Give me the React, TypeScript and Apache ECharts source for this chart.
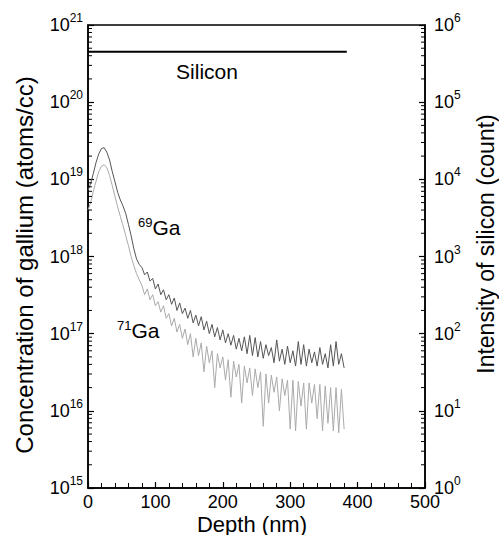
import React, { useEffect, useRef } from "react";
import * as echarts from "echarts";

const FONT = "'Liberation Sans', Arial, Helvetica, sans-serif";

const depth = [
  0, 4, 8, 12, 16, 20, 24, 28, 32, 36, 40, 44, 48, 52, 56, 60, 64, 68, 72, 76,
  80, 84, 88, 92, 96, 100, 104, 108, 112, 116, 120, 124, 128, 132, 136, 140, 144, 148, 152, 156,
  160, 164, 168, 172, 176, 180, 184, 188, 192, 196, 200, 204, 208, 212, 216, 220, 224, 228, 232, 236,
  240, 244, 248, 252, 256, 260, 264, 268, 272, 276, 280, 284, 288, 292, 296, 300, 304, 308, 312, 316,
  320, 324, 328, 332, 336, 340, 344, 348, 352, 356, 360, 364, 368, 372, 376, 380,
];

const ga69 = [
  7.2e18, 8.9e18, 1.2e19, 1.66e19, 2.14e19, 2.51e19, 2.57e19, 2.24e19, 1.78e19, 1.26e19,
  9.3e18, 6.8e18, 5.4e18, 4.5e18, 3.6e18, 2.6e18, 1.86e18, 1.26e18, 9.3e17, 7.9e17,
  7.2e17, 5.8e17, 6.3e17, 4.8e17, 5.2e17, 3.8e17, 4.4e17, 3.2e17, 3.7e17, 2.75e17,
  3.2e17, 2.4e17, 2.9e17, 2.0e17, 2.5e17, 1.82e17, 2.14e17, 1.58e17, 2.0e17, 1.38e17,
  1.74e17, 1.26e17, 1.66e17, 1.12e17, 1.45e17, 1.0e17, 1.32e17, 9.1e16, 1.2e17, 8.3e16,
  1.12e17, 7.6e16, 1.0e17, 7.1e16, 9.5e16, 6.3e16, 8.7e16, 6.0e16, 9.1e16, 5.5e16,
  9.5e16, 5.2e16, 8.9e16, 5.0e16, 7.9e16, 4.8e16, 7.2e16, 5.2e16, 6.6e16, 4.2e16,
  8.3e16, 4.4e16, 6.3e16, 4.0e16, 6.9e16, 4.2e16, 6.0e16, 3.8e16, 7.9e16, 4.0e16,
  7.2e16, 3.8e16, 6.3e16, 4.2e16, 5.8e16, 3.8e16, 6.6e16, 4.0e16, 5.5e16, 3.6e16,
  7.2e16, 3.8e16, 7.9e16, 4.0e16, 5.5e16, 3.6e16,
];

const ga71 = [
  4.0e18, 5.0e18, 7.1e18, 9.5e18, 1.26e19, 1.48e19, 1.55e19, 1.41e19, 1.12e19, 8.3e18,
  6.0e18, 4.4e18, 3.3e18, 2.5e18, 1.86e18, 1.38e18, 1.0e18, 7.6e17, 6.0e17, 5.0e17,
  4.2e17, 3.2e17, 3.8e17, 2.75e17, 3.2e17, 2.3e17, 2.6e17, 1.9e17, 2.3e17, 1.58e17,
  1.82e17, 1.26e17, 1.58e17, 1.05e17, 1.32e17, 8.7e16, 1.15e17, 7.2e16, 1.0e17, 5.0e16,
  8.7e16, 5.2e16, 7.6e16, 3.2e16, 6.9e16, 4.2e16, 6.0e16, 2.0e16, 5.5e16, 3.6e16,
  5.0e16, 2.5e16, 4.6e16, 1.5e16, 4.4e16, 2.75e16, 4.0e16, 1.26e16, 3.8e16, 2.3e16,
  3.6e16, 1.58e16, 3.5e16, 2.0e16, 3.2e16, 6.3e15, 3.0e16, 1.26e16, 2.9e16, 1.74e16,
  2.75e16, 1.0e16, 2.6e16, 1.58e16, 2.5e16, 5.8e15, 2.5e16, 5.5e15, 2.4e16, 1.15e16,
  2.3e16, 5.8e15, 2.3e16, 1.26e16, 2.2e16, 7.9e15, 2.2e16, 5.5e15, 2.1e16, 6.9e15,
  2.0e16, 5.5e15, 2.0e16, 5.2e15, 1.9e16, 5.8e15,
];

const siDepth = [0, 384];
const siCount = [4.5e5, 4.5e5];

const xTicks = [0, 100, 200, 300, 400, 500];
const leftDecades = [1e15, 1e16, 1e17, 1e18, 1e19, 1e20, 1e21];
const rightDecades = [1, 1e1, 1e2, 1e3, 1e4, 1e5, 1e6];
const minorMultipliers = [2, 3, 4, 5, 6, 7, 8, 9];

const minorValues = (decades: number[]) =>
  decades.slice(0, -1).flatMap((d) => minorMultipliers.map((m) => m * d));

const pairs = (xs: number[], ys: number[]) => xs.map((x, i) => [x, ys[i]]);

const expLabel = (v: number) => `{b|10}{s|${Math.round(Math.log10(v))}}`;

const labelRich = {
  b: { fontSize: 18, lineHeight: 26, fontFamily: FONT, color: "#000" },
  s: { fontSize: 12, lineHeight: 8, verticalAlign: "top", fontFamily: FONT, color: "#000" },
};

const tickItem = (dir: number) => (params: any, api: any) => {
  const p = api.coord([api.value(0), api.value(1)]);
  return {
    type: "line",
    shape: { x1: p[0], y1: p[1], x2: p[0] + dir * 4, y2: p[1] },
    style: { stroke: "#000", lineWidth: 1 },
  };
};

export default function App() {
  const ref = useRef<HTMLDivElement>(null);
  useEffect(() => {
    if (!ref.current) return;
    const chart = echarts.init(ref.current, null, { renderer: "svg" });
    const axisLine = { show: true, lineStyle: { color: "#000", width: 1.5 } };
    const xMin = xTicks[0];
    const xMax = xTicks[xTicks.length - 1];
    chart.setOption({
      animation: false,
      backgroundColor: "#fff",
      grid: {
        left: 88,
        right: 74,
        top: 25,
        bottom: 47,
        show: true,
        borderColor: "#000",
        borderWidth: 1.5,
        backgroundColor: "transparent",
      },
      xAxis: {
        type: "value",
        min: xMin,
        max: xMax,
        interval: 100,
        axisLine,
        axisTick: { show: true, inside: true, length: 6, lineStyle: { color: "#000", width: 1.2 } },
        minorTick: { show: true, splitNumber: 5, length: 5, lineStyle: { color: "#000", width: 1 } },
        splitLine: { show: false },
        minorSplitLine: { show: false },
        axisLabel: { fontSize: 18, color: "#000", fontFamily: FONT, margin: 5 },
      },
      yAxis: [
        {
          type: "log",
          logBase: 10,
          min: leftDecades[0],
          max: leftDecades[leftDecades.length - 1],
          position: "left",
          axisLine,
          axisTick: { show: true, inside: true, length: 6, lineStyle: { color: "#000", width: 1.2 } },
          splitLine: { show: false },
          axisLabel: { formatter: expLabel, rich: labelRich, margin: 5 },
        },
        {
          type: "log",
          logBase: 10,
          min: rightDecades[0],
          max: rightDecades[rightDecades.length - 1],
          position: "right",
          axisLine,
          axisTick: { show: true, inside: true, length: 6, lineStyle: { color: "#000", width: 1.2 } },
          splitLine: { show: false },
          axisLabel: { formatter: expLabel, rich: labelRich, margin: 9 },
        },
      ],
      series: [
        {
          name: "71Ga",
          type: "line",
          yAxisIndex: 0,
          data: pairs(depth, ga71),
          showSymbol: false,
          lineStyle: { color: "#aaaaaa", width: 1 },
          z: 2,
        },
        {
          name: "69Ga",
          type: "line",
          yAxisIndex: 0,
          data: pairs(depth, ga69),
          showSymbol: false,
          lineStyle: { color: "#555555", width: 1 },
          z: 3,
        },
        {
          name: "Silicon",
          type: "line",
          yAxisIndex: 1,
          data: pairs(siDepth, siCount),
          showSymbol: false,
          lineStyle: { color: "#000", width: 2 },
          z: 4,
        },
        {
          name: "leftMinor",
          type: "custom",
          yAxisIndex: 0,
          silent: true,
          clip: false,
          data: minorValues(leftDecades).map((v) => [xMin, v]),
          renderItem: tickItem(1),
          z: 5,
        },
        {
          name: "rightMinor",
          type: "custom",
          yAxisIndex: 1,
          silent: true,
          clip: false,
          data: minorValues(rightDecades).map((v) => [xMax, v]),
          renderItem: tickItem(-1),
          z: 5,
        },
      ],
      graphic: [
        {
          type: "text",
          x: 207,
          y: 71,
          style: { text: "Silicon", font: `21px ${FONT}`, fill: "#000", align: "center", verticalAlign: "middle" },
        },
        {
          type: "text",
          x: 138,
          y: 227,
          style: {
            text: "{s|69}{b|Ga}",
            align: "left",
            verticalAlign: "middle",
            rich: {
              b: { fontSize: 21, lineHeight: 22, fontFamily: FONT, fill: "#000" },
              s: { fontSize: 13, lineHeight: 8, verticalAlign: "top", fontFamily: FONT, fill: "#000" },
            },
          },
        },
        {
          type: "text",
          x: 117,
          y: 330,
          style: {
            text: "{s|71}{b|Ga}",
            align: "left",
            verticalAlign: "middle",
            rich: {
              b: { fontSize: 21, lineHeight: 22, fontFamily: FONT, fill: "#000" },
              s: { fontSize: 13, lineHeight: 8, verticalAlign: "top", fontFamily: FONT, fill: "#000" },
            },
          },
        },
        {
          type: "text",
          x: 24,
          y: 265,
          rotation: Math.PI / 2,
          style: {
            text: "Concentration of gallium (atoms/cc)",
            font: `24px ${FONT}`,
            fill: "#000",
            align: "center",
            verticalAlign: "middle",
          },
        },
        {
          type: "text",
          x: 486,
          y: 244,
          rotation: Math.PI / 2,
          style: {
            text: "Intensity of silicon (count)",
            font: `23px ${FONT}`,
            fill: "#000",
            align: "center",
            verticalAlign: "middle",
          },
        },
        {
          type: "text",
          x: 252,
          y: 524,
          style: {
            text: "Depth (nm)",
            font: `22px ${FONT}`,
            fill: "#000",
            align: "center",
            verticalAlign: "middle",
          },
        },
      ],
    });
    return () => chart.dispose();
  }, []);
  return (
    <div
      ref={ref}
      style={{ position: "fixed", left: 0, top: 0, width: 499, height: 535, background: "#fff" }}
    />
  );
}
